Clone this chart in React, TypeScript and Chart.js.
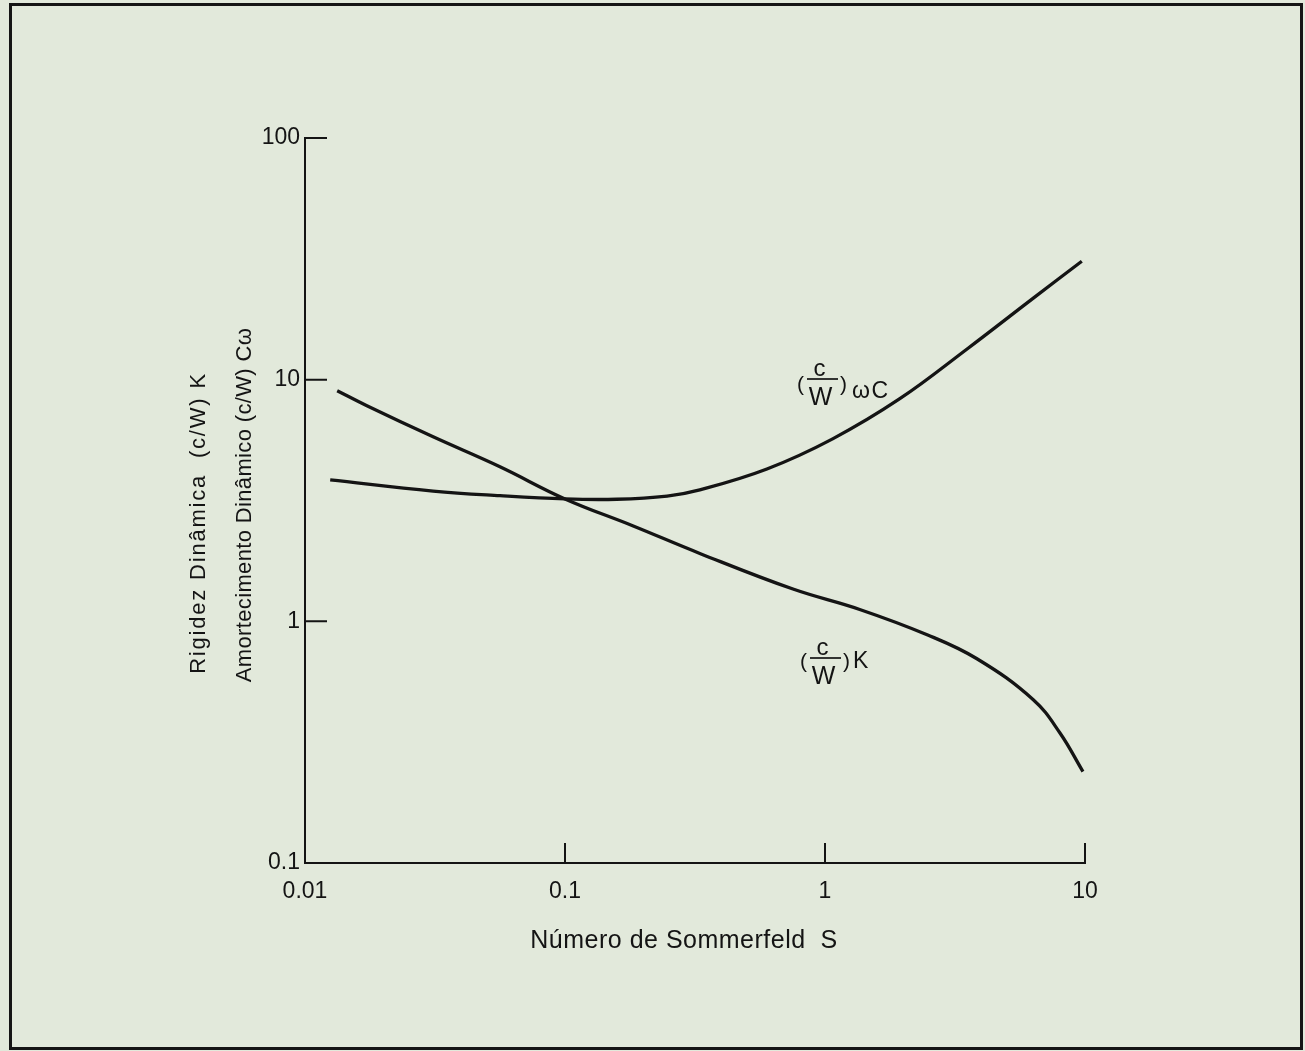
import React, { useEffect, useRef } from "react";
import { Chart, registerables } from "chart.js";

Chart.register(...registerables);

// ---- data ----
const xTickValues = [0.01, 0.1, 1, 10];
const xTickLabels = ["0.01", "0.1", "1", "10"];
const yTickValues = [0.1, 1, 10, 100];
const yTickLabels = ["0.1", "1", "10", "100"];

// (c/W) K  — stiffness
const sommerfeldK = [0.0133, 0.0173, 0.0311, 0.0562, 0.1, 0.183, 0.33, 0.753, 1.36, 2.47, 3.84, 6.31, 8.0, 9.82];
const stiffnessK = [9.0, 7.8, 5.8, 4.36, 3.21, 2.48, 1.91, 1.36, 1.12, 0.88, 0.7, 0.475, 0.346, 0.239];

// (c/W) ωC — damping
const sommerfeldC = [0.0125, 0.0311, 0.0562, 0.1, 0.158, 0.247, 0.33, 0.598, 1.07, 1.94, 3.52, 6.31, 9.72];
const dampingC = [3.85, 3.46, 3.31, 3.21, 3.2, 3.3, 3.5, 4.27, 5.69, 8.34, 13.4, 21.7, 30.9];

const xTitle = "Número de Sommerfeld  S";
const yTitleLine1 = "Rigidez Dinâmica  (c/W) K";
const yTitleLine2 = "Amortecimento Dinâmico (c/W) Cω";

const FONT = "'Liberation Sans', Arial, sans-serif";
const INK = "#141414";

type LabelSpec = {
  x0: number;
  bar: number;
  tail: string;
  parenBase: number;
  tailBase: number;
  tailX: number;
};

function drawFractionLabel(ctx: CanvasRenderingContext2D, s: LabelSpec) {
  const { x0, bar } = s;
  ctx.fillStyle = INK;
  ctx.textBaseline = "alphabetic";
  (ctx as any).letterSpacing = "0px";
  ctx.textAlign = "left";
  ctx.font = `21px ${FONT}`;
  ctx.fillText("(", x0, bar + s.parenBase);
  ctx.fillText(")", x0 + 43, bar + s.parenBase);
  ctx.textAlign = "center";
  ctx.font = `24px ${FONT}`;
  ctx.fillText("c", x0 + 22.5, bar - 3);
  ctx.font = `25px ${FONT}`;
  ctx.fillText("W", x0 + 23.5, bar + 26);
  ctx.strokeStyle = INK;
  ctx.lineWidth = 1.7;
  ctx.beginPath();
  ctx.moveTo(x0 + 10, bar);
  ctx.lineTo(x0 + 41, bar);
  ctx.stroke();
  ctx.textAlign = "left";
  ctx.font = `23px ${FONT}`;
  (ctx as any).letterSpacing = "1.5px";
  ctx.fillText(s.tail, x0 + s.tailX, bar + s.tailBase);
  (ctx as any).letterSpacing = "0px";
}

const inwardTicks = {
  id: "inwardTicks",
  afterDraw(chart: any) {
    const { ctx, chartArea, scales } = chart;
    ctx.save();
    ctx.strokeStyle = INK;
    ctx.lineWidth = 2;
    ctx.beginPath();
    yTickValues.slice(1).forEach((v) => {
      const py = scales.y.getPixelForValue(v);
      ctx.moveTo(chartArea.left, py);
      ctx.lineTo(chartArea.left + 22, py);
    });
    xTickValues.slice(1).forEach((v) => {
      const px = scales.x.getPixelForValue(v);
      ctx.moveTo(px, chartArea.bottom);
      ctx.lineTo(px, chartArea.bottom - 20);
    });
    ctx.stroke();
    ctx.restore();
  },
};

const annotations = {
  id: "annotations",
  afterDraw(chart: any) {
    const ctx: CanvasRenderingContext2D = chart.ctx;
    ctx.save();
    ctx.fillStyle = INK;
    ctx.textAlign = "center";
    ctx.textBaseline = "alphabetic";
    // x title
    ctx.font = `25px ${FONT}`;
    (ctx as any).letterSpacing = "0.5px";
    ctx.fillText(xTitle, 684, 948);
    // y titles
    ctx.font = `22px ${FONT}`;
    ctx.save();
    (ctx as any).letterSpacing = "1.8px";
    ctx.translate(205, 523);
    ctx.rotate(-Math.PI / 2);
    ctx.fillText(yTitleLine1, 0, 0);
    ctx.restore();
    ctx.save();
    (ctx as any).letterSpacing = "0.35px";
    ctx.translate(251, 505);
    ctx.rotate(-Math.PI / 2);
    ctx.fillText(yTitleLine2, 0, 0);
    ctx.restore();
    (ctx as any).letterSpacing = "0px";
    // curve labels
    drawFractionLabel(ctx, { x0: 797, bar: 379, tail: "ωC", parenBase: 12, tailBase: 19, tailX: 55 });
    drawFractionLabel(ctx, { x0: 800, bar: 658, tail: "K", parenBase: 10, tailBase: 10, tailX: 53 });
    ctx.restore();
  },
};

export default function App() {
  const canvasRef = useRef<HTMLCanvasElement | null>(null);

  useEffect(() => {
    const canvas = canvasRef.current;
    if (!canvas) return;
    const chart = new Chart(canvas, {
      type: "line",
      data: {
        datasets: [
          {
            label: "(c/W) K",
            data: sommerfeldK.map((s, i) => ({ x: s, y: stiffnessK[i] })),
            borderColor: INK,
            borderWidth: 3.3,
            pointRadius: 0,
            tension: 0.4,
            fill: false,
          },
          {
            label: "(c/W) ωC",
            data: sommerfeldC.map((s, i) => ({ x: s, y: dampingC[i] })),
            borderColor: INK,
            borderWidth: 3.3,
            pointRadius: 0,
            tension: 0.4,
            fill: false,
          },
        ],
      },
      options: {
        animation: false,
        responsive: false,
        devicePixelRatio: 1,
        events: [],
        layout: { padding: { left: 235, right: 220, top: 138, bottom: 0 } },
        plugins: { legend: { display: false }, tooltip: { enabled: false } },
        scales: {
          x: {
            type: "logarithmic",
            position: "bottom",
            min: 0.01,
            max: 10,
            afterBuildTicks: (s: any) => {
              s.ticks = xTickValues.map((v) => ({ value: v }));
            },
            afterFit: (s: any) => {
              s.height = 188;
            },
            ticks: {
              autoSkip: false,
              maxRotation: 0,
              padding: 15,
              color: INK,
              font: { family: FONT, size: 23 },
              callback: (v: any) => xTickLabels[xTickValues.indexOf(Number(v))] ?? "",
            },
            grid: { display: false, drawTicks: false },
            border: { display: true, color: INK, width: 2 },
          },
          y: {
            type: "logarithmic",
            position: "left",
            min: 0.1,
            max: 100,
            afterBuildTicks: (s: any) => {
              s.ticks = yTickValues.map((v) => ({ value: v }));
            },
            afterFit: (s: any) => {
              s.width = 70;
            },
            ticks: {
              autoSkip: false,
              padding: 5,
              color: INK,
              font: { family: FONT, size: 23 },
              callback: (v: any) => yTickLabels[yTickValues.indexOf(Number(v))] ?? "",
            },
            grid: { display: false, drawTicks: false },
            border: { display: true, color: INK, width: 2 },
          },
        },
      },
      plugins: [inwardTicks, annotations],
    } as any);
    return () => chart.destroy();
  }, []);

  return (
    <div
      style={{
        position: "absolute",
        left: 0,
        top: 0,
        width: 1305,
        height: 1051,
        background: "#e2e9db",
        overflow: "hidden",
      }}
    >
      <canvas ref={canvasRef} width={1305} height={1051} style={{ position: "absolute", left: 0, top: 0 }} />
      <div
        style={{
          position: "absolute",
          left: 9,
          top: 3,
          width: 1294,
          height: 1047,
          boxSizing: "border-box",
          border: "3px solid #151515",
          pointerEvents: "none",
        }}
      />
    </div>
  );
}
